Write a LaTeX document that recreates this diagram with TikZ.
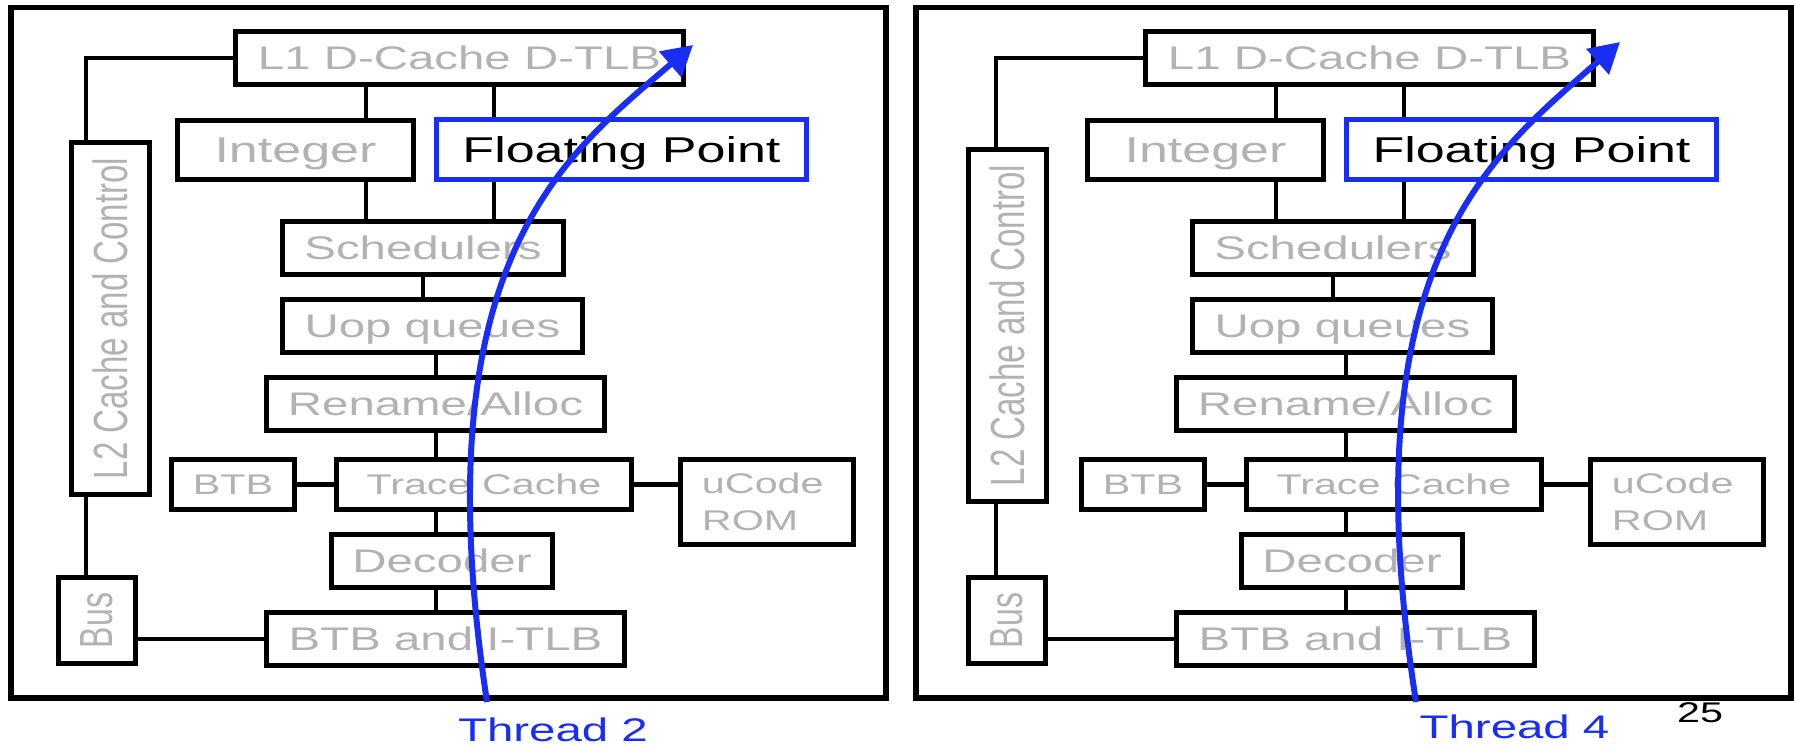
\documentclass[tikz,border=0pt]{standalone}
\usepackage{graphicx}
\usepackage{fontspec}
\setmainfont{Liberation Sans}[FakeStretch=1.45]
\newfontfamily\rotfont{Liberation Sans}
\usetikzlibrary{arrows.meta}
\definecolor{txtgray}{RGB}{178,178,178}
\definecolor{thrblue}{RGB}{25,45,245}

\begin{document}
\begin{tikzpicture}[x=0.01cm, y=-0.01cm]
  \tikzstyle{unit}=[draw, line width=1.6pt, inner sep=0pt, text=txtgray]
  \tikzstyle{blk}=[unit, text depth=0pt]
  \tikzstyle{vblk}=[unit, rotate=90]
  \tikzstyle{big}=[font=\fontsize{9.3}{11}\selectfont, text height=6.7pt]
  \tikzstyle{small}=[font=\fontsize{8.1}{10.5}\selectfont, text height=5.8pt]
  \tikzstyle{wide}=[font=\fontsize{10.2}{12}\selectfont, text height=7.3pt]
  \tikzstyle{wire}=[line width=1.2pt]
  \tikzstyle{frame}=[line width=1.7pt]
  \tikzstyle{thread}=[thrblue, line width=1.7pt, -{Triangle[length=0.3cm,width=0.33cm]}]
  \useasboundingbox (0,0) rectangle (1794,745);
  \draw[frame] (11,7.5) rectangle (885.5,698);
  \draw[frame] (916,7.5) rectangle (1791,698);
  % one core per panel
  \foreach \p/\dx/\dl/\dy in {a/0/0/0, b/910/-13/7} {
  \begin{scope}[xshift=\dx*0.01cm]
  \coordinate (lnA\p) at (366,0);
  \coordinate (lnB\p) at (494,0);
  \coordinate (lnC\p) at (436,0);
  \coordinate (lnL\p) at (86,0);
  \node[blk, big, minimum width=4.48cm, minimum height=0.53cm] (l1\p) at (459.5,58) {L1 D-Cache D-TLB};
  \node[blk, wide, minimum width=2.36cm, minimum height=0.59cm] (int\p) at (295.5,150) {Integer};
  \node[blk, wide, draw=thrblue, text=black, line width=1.4pt, minimum width=3.70cm, minimum height=0.60cm] (fp\p) at (621.5,149.5) {Floating Point};
  \node[blk, big, minimum width=2.81cm, minimum height=0.53cm] (sch\p) at (423,248) {Schedulers};
  \node[blk, big, minimum width=3.00cm, minimum height=0.53cm] (uop\p) at (432.5,326) {Uop queues};
  \node[blk, big, minimum width=3.38cm, minimum height=0.53cm] (ren\p) at (435.5,404) {Rename/Alloc};
  \node[blk, small, minimum width=1.23cm, minimum height=0.50cm] (btb\p) at (233,484.5) {BTB};
  \node[blk, small, minimum width=2.95cm, minimum height=0.50cm] (trc\p) at (484,484.5) {Trace Cache};
  \node[unit, small, align=left, text width=1.30cm, minimum width=1.73cm, minimum height=0.85cm] (uc\p) at (767,502) {uCode\\ROM};
  \node[blk, big, minimum width=2.21cm, minimum height=0.53cm] (dec\p) at (442,561) {Decoder};
  \node[blk, big, minimum width=3.58cm, minimum height=0.53cm] (itlb\p) at (445.5,639) {BTB and I-TLB};
  \node[vblk, minimum width=3.52cm, minimum height=0.78cm] (l2\p) at (110.5+\dl,318.5+\dy)
    {\scalebox{1}[1.45]{\rotfont\fontsize{9.4}{11}\selectfont L2 Cache and Control}};
  \node[vblk, minimum width=0.86cm, minimum height=0.77cm] (bus\p) at (97,620.5)
    {\scalebox{1}[1.45]{\rotfont\fontsize{9.1}{11}\selectfont Bus}};
  \draw[wire] (l1\p.west) -| (lnL\p |- l2\p.east);
  \draw[wire] (lnL\p |- l2\p.west) -- (lnL\p |- bus\p.east);
  \draw[wire] (bus\p.south |- itlb\p) -- (itlb\p.west);
  \draw[wire] (lnA\p |- l1\p.south) -- (lnA\p |- int\p.north);
  \draw[wire] (lnB\p |- l1\p.south) -- (lnB\p |- fp\p.north);
  \draw[wire] (lnA\p |- int\p.south) -- (lnA\p |- sch\p.north);
  \draw[wire] (lnB\p |- fp\p.south) -- (lnB\p |- sch\p.north);
  \draw[wire] (sch\p.south) -- (sch\p.south |- uop\p.north);
  \draw[wire] (lnC\p |- uop\p.south) -- (lnC\p |- ren\p.north);
  \draw[wire] (lnC\p |- ren\p.south) -- (lnC\p |- trc\p.north);
  \draw[wire] (lnC\p |- trc\p.south) -- (lnC\p |- dec\p.north);
  \draw[wire] (lnC\p |- dec\p.south) -- (lnC\p |- itlb\p.north);
  \draw[wire] (btb\p) -- (trc\p);
  \draw[wire] (trc\p.east) -- (trc\p.east -| uc\p.west);
  \end{scope}}
  % the two threads
  \coordinate (t2s) at (487,702);
  \coordinate (t2e) at (693,45);
  \coordinate (t4s) at (1416,702);
  \coordinate (t4e) at (1620,42);
  \draw[thread] (t2s) .. controls (420,260) and (565,155) .. (t2e);
  \draw[thread] (t4s) .. controls (1347,260) and (1492,155) .. (t4e);
  \node[big, text=thrblue, text depth=0pt, inner sep=0pt] (thr2) at (553,730) {Thread 2};
  \node[big, text=thrblue, text depth=0pt, inner sep=0pt] (thr4) at (1514.5,726.5) {Thread 4};
  \node[small, text depth=0pt, inner sep=0pt] (pg) at (1700,712.5) {25};
\end{tikzpicture}
\end{document}
